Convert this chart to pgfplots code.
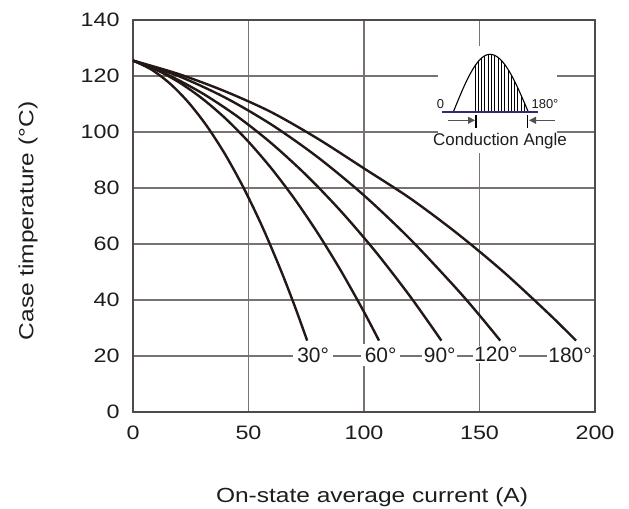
\documentclass[border=0pt]{standalone}
\usepackage{fontspec}
\setmainfont{Liberation Sans}
\newfontfamily\widefont[FakeStretch=1.2]{Liberation Sans}
\usepackage{pgfplots}
\pgfplotsset{compat=1.18}
\usetikzlibrary{arrows.meta}
\definecolor{curve}{RGB}{35,24,22}
\definecolor{gridc}{RGB}{120,114,114}
\definecolor{framec}{RGB}{80,74,74}
\definecolor{txt}{RGB}{30,28,28}
\definecolor{navy}{RGB}{50,40,125}
\begin{document}
\begin{tikzpicture}
\path[use as bounding box] (-133bp,-97bp) rectangle (496bp,412bp);
\begin{axis}[
 at={(0,0)}, anchor=south west,
 scale only axis, width=462bp, height=392bp,
 xmin=0,xmax=200,ymin=0,ymax=140,
 xtick={0,50,...,200}, ytick={0,20,...,140},
 grid=major, major grid style={gridc, line width=1.3bp},
 axis line style={framec, line width=1.5bp},
 major tick length=0pt,
 tick label style={font=\widefont\fontsize{19.5}{22}\selectfont, text=txt},
 /pgf/number format/assume math mode=true,
 xticklabel style={yshift=-10bp},
 yticklabel style={xshift=-10bp},
]
\addplot[curve, line width=2.4bp, smooth] coordinates {(0,125.5) (8,122.28) (16,117.30) (24,110.57) (32,102.09) (40,91.85) (48,79.86) (56,66.12) (64,50.62) (70,37.85) (75.4,25.5)};
\addplot[curve, line width=2.4bp, smooth] coordinates {(0,125.5) (10,122.25) (20,117.72) (30,111.92) (40,104.85) (50,96.51) (60,86.90) (70,76.02) (80,63.86) (90,50.44) (100,35.74) (106.5,25.5)};
\addplot[curve, line width=2.4bp, smooth] coordinates {(0,125.5) (15,120.45) (30,113.84) (45,105.66) (60,95.91) (75,84.60) (90,71.72) (105,57.27) (120,41.25) (133.5,25.5)};
\addplot[curve, line width=2.4bp, smooth] coordinates {(0,125.5) (20,119.87) (40,112.24) (60,102.61) (80,90.98) (100,77.35) (120,61.72) (140,44.09) (150,34.53) (159,25.5)};
\addplot[curve, line width=2.4bp, smooth] coordinates {(0,125.5) (20,120.64) (40,114.48) (60,107.03) (80,97.6) (100,87.0) (120,76.3) (140,64.0) (160,50.32) (180,35.09) (191.8,25.5)};
\node[fill=white, inner sep=4bp, text=txt, font=\fontsize{21}{22}\selectfont] at (axis cs:78,20.3) {30°};
\node[fill=white, inner sep=3.5bp, text=txt, font=\fontsize{21}{22}\selectfont] at (axis cs:107.2,20.3) {60°};
\node[fill=white, inner sep=1.5bp, text=txt, font=\fontsize{21}{22}\selectfont] at (axis cs:132.8,20.3) {90°};
\node[fill=white, inner sep=1.2bp, text=txt, font=\fontsize{21}{22}\selectfont] at (axis cs:157.1,20.6) {120°};
\node[fill=white, inner sep=1.5bp, text=txt, font=\fontsize{21}{22}\selectfont] at (axis cs:189.2,20.3) {180°};
\end{axis}
% axis titles
\node[rotate=90, text=txt, font=\widefont\fontsize{20.5}{22}\selectfont] at (-105bp,191bp) {Case timperature (°C)};
\node[text=txt, font=\widefont\fontsize{20.5}{22}\selectfont] at (239bp,-85.5bp) {On-state average current (A)};
% inset
\fill[white] (305bp,258.7bp) rectangle (424bp,365.7bp);
\begin{scope}
\clip (320.3bp,300bp) sin (357bp,357.7bp) cos (395.3bp,300bp) -- cycle;
\foreach \k in {0,...,16} {\draw[black, line width=0.9bp] (342bp+\k*3.3bp,299bp) -- (342bp+\k*3.3bp,360bp);}
\end{scope}
\draw[black, line width=1.1bp] (320.3bp,300bp) sin (357bp,357.7bp) cos (395.3bp,300bp);
\draw[navy, line width=1.5bp] (308.7bp,300bp) -- (405.3bp,300bp);
\draw[gridc!70!black, line width=0.8bp, -{Triangle[length=7bp,width=7bp]}] (315.3bp,291.7bp) -- (342bp,291.7bp);
\draw[black, line width=1.5bp] (343bp,284.4bp) -- (343bp,296.7bp);
\draw[gridc!70!black, line width=0.8bp, -{Triangle[length=7bp,width=7bp]}] (422bp,291.7bp) -- (396bp,291.7bp);
\draw[black, line width=1.5bp] (394.7bp,284.4bp) -- (394.7bp,296.7bp);
\node[text=txt, font=\fontsize{13}{15}\selectfont] at (307.5bp,307.7bp) {0};
\node[text=txt, font=\fontsize{13}{15}\selectfont] at (412bp,307.7bp) {180°};
\node[text=txt, font=\fontsize{17}{19}\selectfont] at (367bp,270.7bp) {Conduction Angle};
\end{tikzpicture}
\end{document}
